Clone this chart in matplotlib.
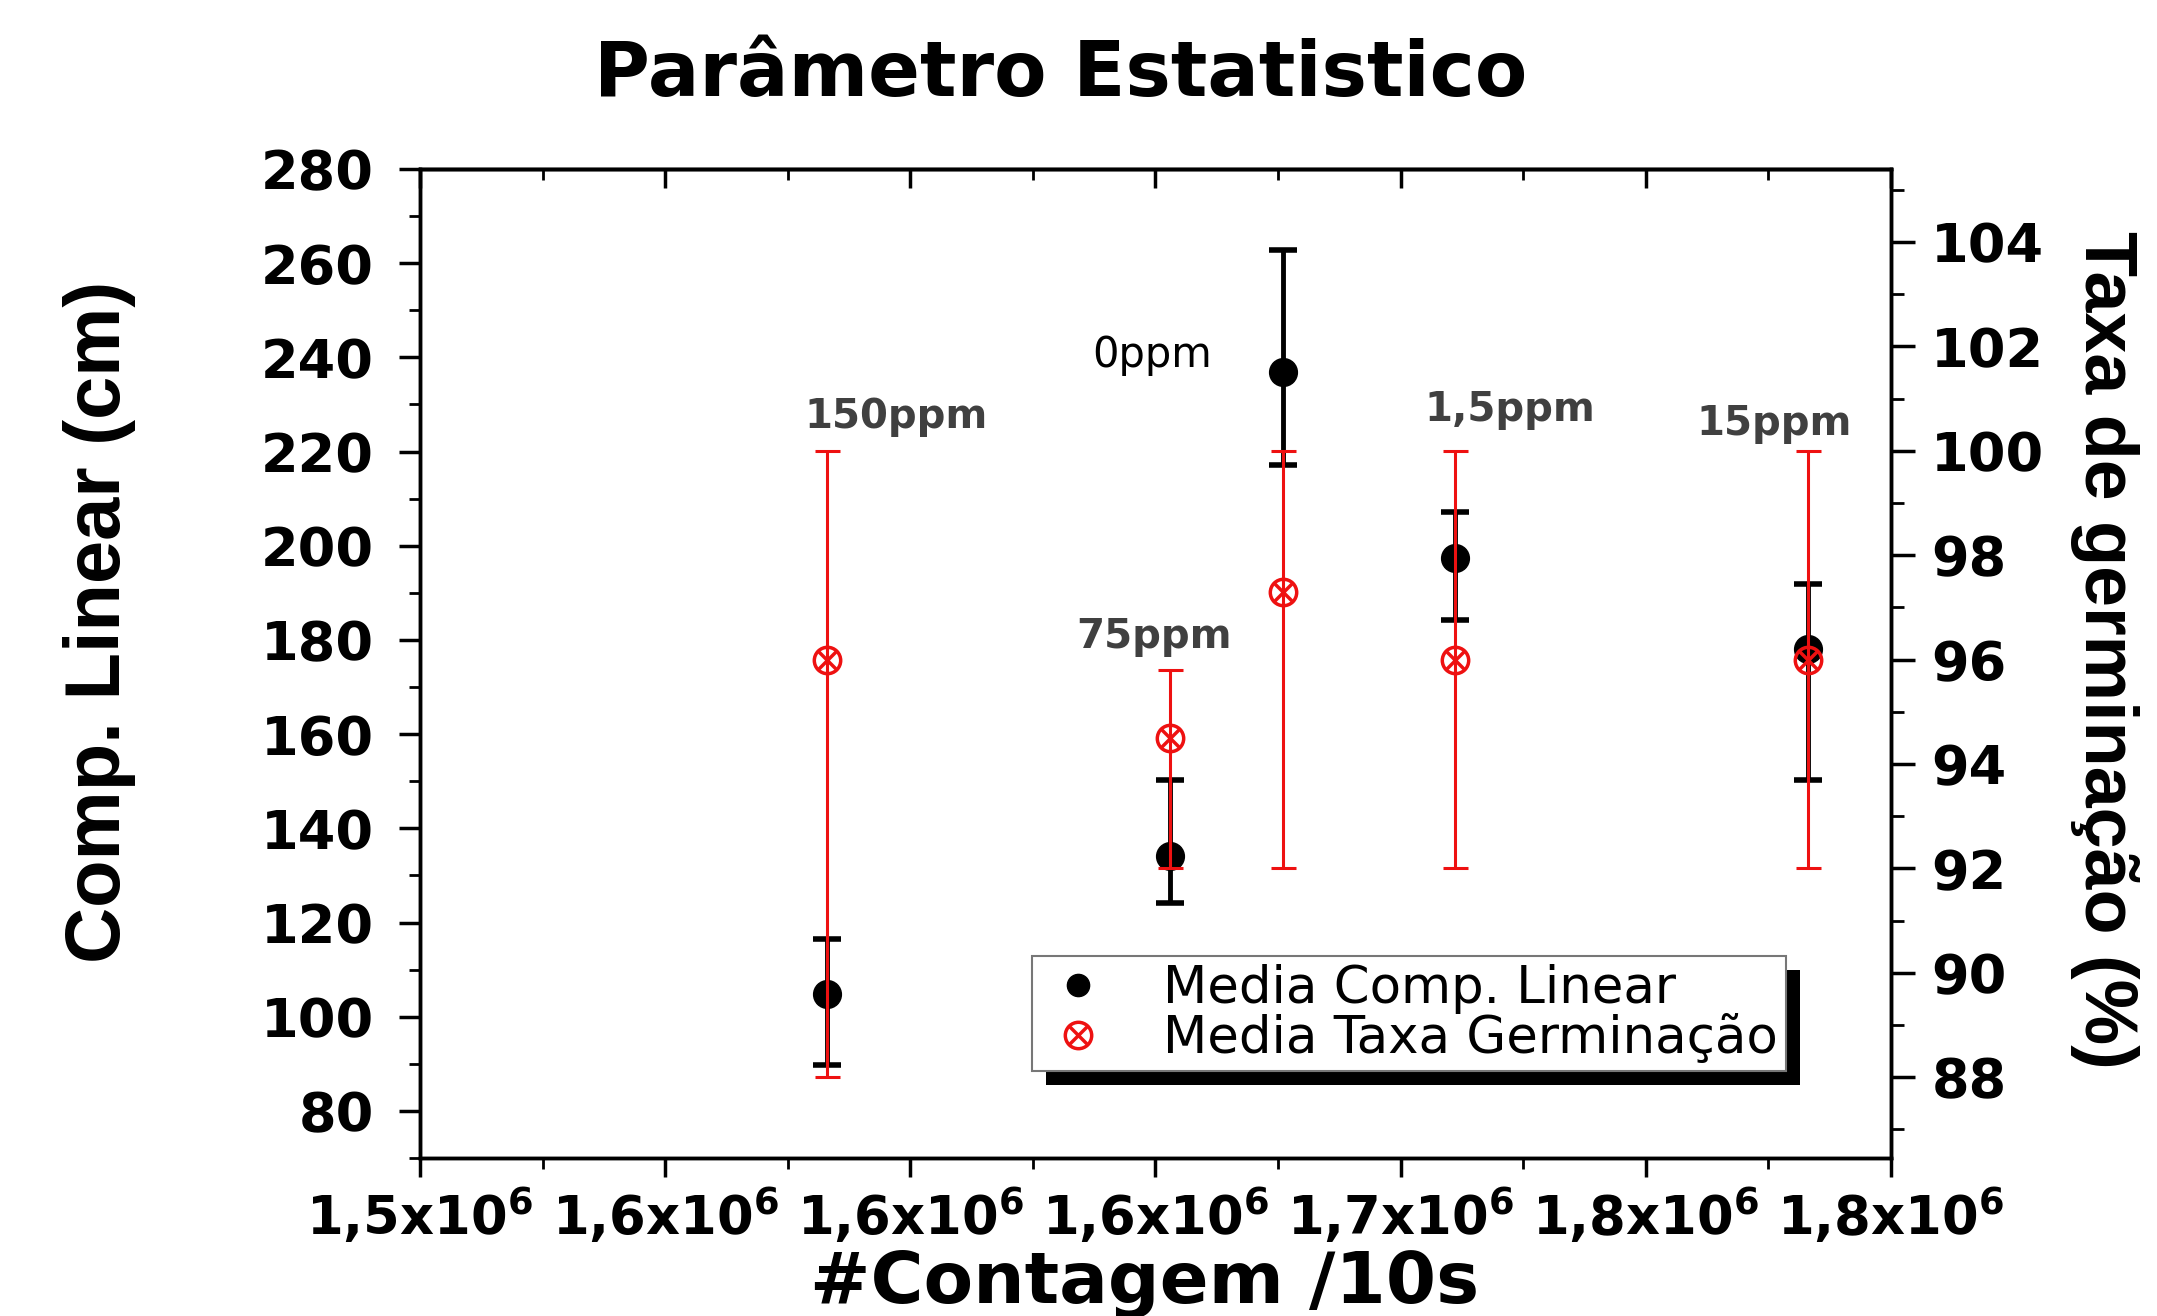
import numpy as np
import matplotlib
matplotlib.use('Agg')
import matplotlib.pyplot as plt
from matplotlib.ticker import MultipleLocator
from matplotlib.legend_handler import HandlerTuple
from matplotlib.patches import Rectangle
from matplotlib.transforms import IdentityTransform

plt.rcParams['font.family'] = 'DejaVu Sans'
plt.rcParams['mathtext.default'] = 'bf'

# dados
contagem = [1.583e6, 1.653e6, 1.676e6, 1.711e6, 1.783e6]
doses = ['150ppm', '75ppm', '0ppm', '1,5ppm', '15ppm']
comp_media = [104.9, 134.2, 236.9, 197.5, 178.1]
comp_sup = [116.4, 150.2, 262.8, 207.1, 191.9]
comp_inf = [89.7, 124.1, 217.2, 184.2, 150.3]
taxa_media = [96.0, 94.5, 97.3, 96.0, 96.0]
taxa_sup = [100.0, 95.8, 100.0, 100.0, 100.0]
taxa_inf = [88.0, 92.0, 92.0, 92.0, 92.0]

# posicao dos rotulos (eixo esquerdo)
rotulo_x = [1.597e6, 1.6497e6, 1.6494e6, 1.7223e6, 1.7762e6]
rotulo_y = [227.3, 180.7, 240.5, 228.8, 225.8]

xticks = [1.50e6, 1.55e6, 1.60e6, 1.65e6, 1.70e6, 1.75e6, 1.80e6]
xtick_txt = ['1,5', '1,6', '1,6', '1,6', '1,7', '1,8', '1,8']

W, H = 2157, 1316
fig = plt.figure(figsize=(W / 100, H / 100), dpi=100)
ax = fig.add_axes([420 / W, 1 - 1158 / H, (1891 - 420) / W, (1158 - 169) / H])
ax2 = ax.twinx()

vermelho = '#ee1111'

cm = np.array(comp_media)
tm = np.array(taxa_media)
ax.errorbar(contagem, comp_media,
            yerr=[cm - np.array(comp_inf), np.array(comp_sup) - cm],
            fmt='o', color='black', ms=20, elinewidth=3.5, capsize=10, capthick=4, zorder=3)
ax2.errorbar(contagem, taxa_media,
             yerr=[tm - np.array(taxa_inf), np.array(taxa_sup) - tm],
             fmt='none', ecolor=vermelho, elinewidth=2.2, capsize=9, capthick=2.2)
h_o, = ax2.plot(contagem, taxa_media, 'o', mfc='none', mec=vermelho, mew=2.5, ms=19)
h_x, = ax2.plot(contagem, taxa_media, 'x', color=vermelho, mew=2.5, ms=13)
h_preto, = ax.plot([], [], 'o', color='black', ms=20)

for i, d in enumerate(doses):
    if d == '0ppm':
        ax.text(rotulo_x[i], rotulo_y[i], d, ha='center', va='center', fontsize=30, color='black')
    else:
        ax.text(rotulo_x[i], rotulo_y[i], d, ha='center', va='center', fontsize=29,
                fontweight='bold', color='#404040')

ax.set_xlim(1.5e6, 1.8e6)
ax.set_ylim(70, 280)
ax2.set_ylim(86.45, 105.4)

xt = np.array(xticks)
ax.set_xticks(xticks)
ax.set_xticklabels([t + 'x10$^6$' for t in xtick_txt], fontsize=38, fontweight='bold')
ax.set_xticks((xt[:-1] + xt[1:]) / 2, minor=True)

ax.yaxis.set_major_locator(MultipleLocator(20))
ax.yaxis.set_minor_locator(MultipleLocator(10))
ax2.yaxis.set_major_locator(MultipleLocator(2))
ax2.yaxis.set_minor_locator(MultipleLocator(1))

for lab in ax.get_yticklabels() + ax2.get_yticklabels():
    lab.set_fontweight('bold')

ax.tick_params(axis='x', which='major', direction='out', length=14, width=2.5, pad=6, top=False)
ax.tick_params(axis='x', which='minor', direction='out', length=8, width=2, top=False)
ax.tick_params(axis='y', which='major', direction='out', length=15, width=2.5, pad=18, labelsize=39, right=False)
ax.tick_params(axis='y', which='minor', direction='out', length=8, width=2, right=False)
ax2.tick_params(axis='y', which='major', direction='out', length=17, width=2.5, pad=12, labelsize=39)
ax2.tick_params(axis='y', which='minor', direction='out', length=9, width=2)

topo = ax.secondary_xaxis('top')
topo.set_xticks(xticks)
topo.set_xticks((xt[:-1] + xt[1:]) / 2, minor=True)
topo.tick_params(which='major', direction='in', length=14, width=2.5, labeltop=False)
topo.tick_params(which='minor', direction='in', length=8, width=2)
topo.spines['top'].set_linewidth(2.5)

for a in (ax, ax2):
    for s in a.spines.values():
        s.set_linewidth(2.5)

fig.text(1061 / W, 1 - 96 / H, 'Parâmetro Estatistico', ha='center', va='baseline',
         fontsize=55, fontweight='bold')
fig.text(1145 / W, 13 / H, '#Contagem /10s', ha='center', va='baseline',
         fontsize=52, fontweight='bold')
fig.text(120 / W, 1 - 622 / H, 'Comp. Linear (cm)', rotation=90, rotation_mode='anchor',
         ha='center', va='baseline', fontsize=56, fontweight='bold', family='Liberation Sans')
fig.text(2085 / W, 1 - 650 / H, 'Taxa de germinação (%)', rotation=-90, rotation_mode='anchor',
         ha='center', va='baseline', fontsize=53, fontweight='bold', family='Liberation Sans')

leg = fig.legend([h_preto, (h_o, h_x)], ['Media Comp. Linear', 'Media Taxa Germinação'],
                 handler_map={tuple: HandlerTuple(ndivide=1, pad=0)},
                 loc='upper left', bbox_to_anchor=(1032 / W, 1 - 956 / H), borderaxespad=0,
                 fontsize=37, fancybox=False, framealpha=1, edgecolor='#777777',
                 borderpad=0.15, labelspacing=0.0, handlelength=1.5, handletextpad=0.9)
leg.get_frame().set_linewidth(1.5)
leg.legend_handles[0].set_markersize(16)

fig.canvas.draw()
bb = leg.get_window_extent()
sombra = Rectangle((bb.x0 + 14, bb.y0 - 14), bb.width, bb.height, transform=IdentityTransform(),
                   facecolor='black', edgecolor='none', zorder=leg.get_zorder() - 0.1)
fig.add_artist(sombra)

fig.savefig('out.png', dpi=100)
